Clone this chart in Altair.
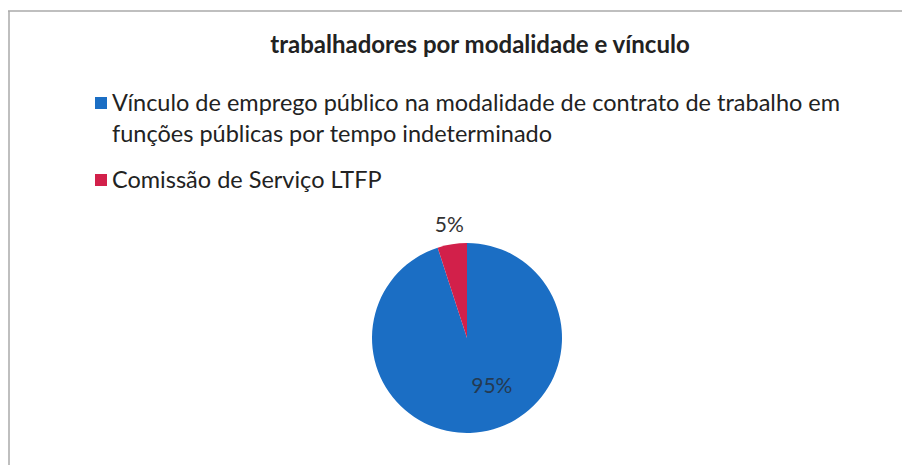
import textwrap
import altair as alt
import pandas as pd

title_text = "trabalhadores por modalidade e vínculo"
categories = [
    "Vínculo de emprego público na modalidade de contrato de trabalho em funções públicas por tempo indeterminado",
    "Comissão de Serviço LTFP",
]
shares = [95, 5]
labels = ["95%", "5%"]
colors = ["#1b6ec4", "#d2204a"]

FONT = "Lato"

df = pd.DataFrame({"cat": categories, "share": shares, "label": labels})
df["lines"] = [textwrap.wrap(c, 67) for c in categories]

color = alt.Color("cat:N", scale=alt.Scale(domain=categories, range=colors), legend=None)
theta = alt.Theta("share:Q", stack=True)
order = alt.Order("share:Q", sort="descending")
cx, cy = 459, 330

base = alt.Chart(df)

pie = base.mark_arc(outerRadius=95).encode(
    theta=theta, color=color, order=order, x=alt.value(cx), y=alt.value(cy)
)

txt_out = base.mark_text(radius=113, fontSize=21, font=FONT, color="#333333").encode(
    theta=theta, order=order, x=alt.value(cx), y=alt.value(cy),
    text=alt.condition(alt.datum.share < 50, "label:N", alt.value("")),
)
txt_in = base.mark_text(radius=50, dx=17, fontSize=21, font=FONT, color="#243a52").encode(
    theta=theta, order=order, x=alt.value(cx), y=alt.value(cy),
    text=alt.condition(alt.datum.share >= 50, "label:N", alt.value("")),
)

yscale = alt.Scale(domain=categories, range=[95, 172], padding=0)
legend_sq = base.mark_square(size=144, opacity=1).encode(
    x=alt.value(93), y=alt.Y("cat:N", scale=yscale, axis=None), color=color
)
legend_txt = base.mark_text(
    align="left", baseline="alphabetic", fontSize=23.5, font=FONT, lineHeight=31, dy=8, color="#222222"
).encode(x=alt.value(104), y=alt.Y("cat:N", scale=yscale, axis=None), text="lines")

title_df = pd.DataFrame({"t": [title_text]})
title = alt.Chart(title_df).mark_text(
    align="center", baseline="alphabetic", fontSize=24, font=FONT, fontWeight="bold", color="#222222"
).encode(x=alt.value(472), y=alt.value(45), text="t:N")

one = pd.DataFrame({"a": [0]})
frame_top = alt.Chart(one).mark_rule(color="#aaaaaa", strokeWidth=1.5).encode(
    x=alt.value(0), x2=alt.value(894), y=alt.value(3)
)
frame_left = alt.Chart(one).mark_rule(color="#aaaaaa", strokeWidth=1.5).encode(
    x=alt.value(1), y=alt.value(3), y2=alt.value(457)
)

chart = alt.layer(
    frame_top, frame_left, title, legend_sq, legend_txt, pie, txt_out, txt_in
).properties(
    width=894, height=457, autosize=alt.AutoSizeParams(type="none"), padding=0
).configure_view(stroke=None)

chart.save("out.html", embed_options={"renderer": "svg", "actions": False})
